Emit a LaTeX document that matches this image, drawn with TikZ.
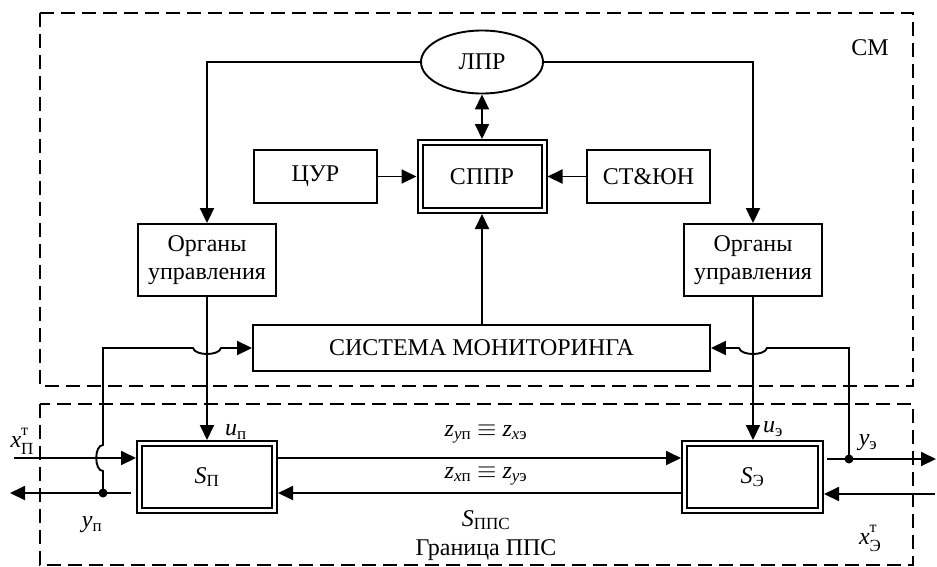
\documentclass[tikz,border=0pt]{standalone}
\usepackage{fontspec}
\setmainfont{Liberation Serif}
\usetikzlibrary{arrows.meta,shapes.geometric}
\newcommand\ssz[1]{\hbox{\fontsize{17}{17}\selectfont #1}}
\newcommand\stk[2]{\rlap{\raisebox{12pt}{\fontsize{16}{16}\selectfont #1}}\raisebox{-7pt}{\fontsize{17}{17}\selectfont #2}}
\begin{document}
\begin{tikzpicture}[x=1pt,y=-1pt,
  font=\fontsize{24}{28}\selectfont,
  line width=1.9pt,
  >={Triangle[length=15pt,width=14pt]},
  box/.style={draw, inner sep=0pt, align=center},
  dbl/.style={draw, double, double distance=3pt, line width=2pt, outer sep=3.5pt, inner sep=0pt},
  ell/.style={draw, ellipse, inner sep=0pt},
  frame/.style={dash pattern=on 14pt off 7pt, line width=1.8pt},
  lab/.style={inner sep=1pt}]
\useasboundingbox (0,0) rectangle (937,566);
% frames
\draw[frame] (40,13) rectangle (913,386);
\draw[frame] (40,404) rectangle (913,565);
% nodes
\node[ell, minimum width=122pt, minimum height=63pt] (lpr) at (482,62) {ЛПР};
\node[dbl, minimum width=124pt, minimum height=68pt] (sppr) at (482,176.5) {СППР};
\node[box, minimum width=123pt, minimum height=53pt] (cur) at (315.5,176.5) {ЦУР};
\node[box, minimum width=123pt, minimum height=53pt] (ctu) at (648.5,176.5) {СТ\&ЮН};
\node[box, minimum width=138pt, minimum height=72pt] (ol) at (207,260) {Органы\\управления};
\node[box, minimum width=138pt, minimum height=72pt] (or) at (753,260) {Органы\\управления};
\node[box, minimum width=457pt, minimum height=46pt] (sm) at (481.5,348) {СИСТЕМА МОНИТОРИНГА};
\node[dbl, minimum width=135pt, minimum height=67pt] (sp) at (207,477) {\textit{S}$_{\ssz{П}}$};
\node[dbl, minimum width=136pt, minimum height=67pt] (se) at (752.5,477) {\textit{S}$_{\ssz{Э}}$};
% coordinates
\coordinate (xin) at (14,458);
\coordinate (yout) at (10,493);
\coordinate (ypd) at (103,493);
\coordinate (yed) at (849,459);
\coordinate (yeout) at (936,459);
\coordinate (xein) at (935,494);
\coordinate (smtop) at (482,325);
% connectors
\draw[<->] (lpr.south) -- (sppr.north);
\draw[->] (cur) -- (sppr);
\draw[->] (ctu) -- (sppr);
\draw[->] (smtop) -- (sppr.south);
\draw[->] (lpr.west) -| (ol.north);
\draw[->] (lpr.east) -| (or.north);
\draw[->] (ol.south) -- (sp.north);
\draw[->] (or.south) -- (or.south |- se.north);
\draw[->] ([yshift=19pt]sp.east) -- ([yshift=19pt]se.west);
\draw[->] ([yshift=-16pt]se.west) -- ([yshift=-16pt]sp.east);
\draw[->] (xin) -- (xin -| sp.west);
\draw[->] ([yshift=-16pt,xshift=-5pt]sp.west) -- (yout);
\draw[->] ([yshift=18pt,xshift=3pt]se.east) -- (yeout);
\draw[->] (xein) -- (xein -| se.east);
% feedback loops with jumps
\draw[->] (ypd) -- (103,471) .. controls (94,471) and (94,445) .. (103,445)
  -- (103,348) -- (193,348) .. controls (195,356) and (219,356) .. (221,348) -- (sm.west);
\draw[->] (yed) -- (849,348) -- (767,348) .. controls (765,356) and (741,356) .. (739,348) -- (sm.east);
\fill (ypd) circle (4.5pt);
\fill (yed) circle (4.5pt);
% labels
\node[lab] (lxp) at (22,441) {\textit{x}\stk{т}{П}};
\node[lab] (lyp) at (92,525) {\textit{y}$_{\ssz{п}}$};
\node[lab] (lup) at (236,432) {\textit{u}$_{\ssz{п}}$};
\node[lab] (lue) at (773,429) {\textit{u}$_{\ssz{э}}$};
\node[lab] (lye) at (868,443) {\textit{y}$_{\ssz{э}}$};
\node[lab] (lxe) at (870,538) {\textit{x}\stk{т}{Э}};
\node[lab] (z1) at (486,434) {\textit{z}$_{\ssz{\textit{y}п}}$ $\equiv$ \textit{z}$_{\ssz{\textit{x}э}}$};
\node[lab] (z2) at (486,476) {\textit{z}$_{\ssz{\textit{x}п}}$ $\equiv$ \textit{z}$_{\ssz{\textit{y}э}}$};
\node[lab] (spps) at (486,520) {\textit{S}$_{\ssz{ППС}}$};
\node[lab] (gr) at (486,550) {Граница ППС};
\node[lab] (cm) at (870,48) {СМ};
\end{tikzpicture}
\end{document}
